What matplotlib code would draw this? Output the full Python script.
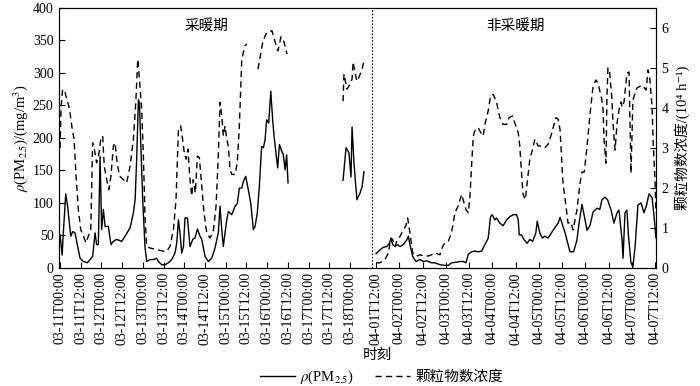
import numpy as np
import matplotlib
matplotlib.use('Agg')
from matplotlib import pyplot as plt
from matplotlib.lines import Line2D

plt.rcParams['font.family'] = ['Liberation Serif', 'Noto Sans CJK SC', 'DejaVu Sans']
plt.rcParams['mathtext.fontset'] = 'stix'
plt.rcParams['font.size'] = 10

# heating period, hours since 03-11T00:00
pm_a_t = [0, 1.2, 1.9, 3.3, 4.4, 6.2, 7.3, 8.7, 10, 11.6, 13.5, 15.8, 17.4, 18.9,
          20.3, 21.2, 22.2, 23.2, 24.1, 25.1, 26.1, 28, 29.5, 30.9, 32.8, 35.7,
          37.7, 40.6, 42.5, 43.5, 44.4, 45.4, 46, 46.7, 47.9, 49.2, 50.2, 52.1,
          54.1, 56, 57, 58.9, 60.8, 62.8, 64.7, 66.6, 67.6, 68.6, 69.5, 70.5,
          71.5, 72.4, 73.8, 75.3, 76.9, 78.2, 79.6, 81.1, 82.1, 84, 85.9, 87.9,
          89.8, 91.7, 92.7, 93.7, 94.6, 95.6, 96.6, 97.5, 99.5, 101.4, 102.7,
          103.9, 105.3, 106.2, 107.6, 109.1, 110.5, 112, 113, 114.3, 115.5,
          116.8, 117.8, 118.8, 119.7, 120.9, 122.1, 123.2, 124, 125.1, 126.1,
          127.1, 128.4, 129.4, 130.4, 131.3, 132.1]
pm_a = [51, 20, 54, 114, 95, 49, 56, 54, 36, 15, 10, 8, 13, 18,
        54, 36, 36, 172, 59, 90, 64, 64, 36, 41, 44, 41,
        49, 62, 85, 105, 167, 259, 254, 197, 105, 33, 10, 13,
        13, 15, 10, 5, 5, 8, 13, 23, 38, 74, 54, 23,
        33, 77, 77, 33, 44, 46, 60, 49, 44, 18, 10, 15,
        31, 54, 95, 59, 33, 54, 74, 87, 82, 95, 99,
        123, 123, 133, 141, 120, 100, 59, 64, 85, 126,
        187, 185, 197, 228, 223, 272, 228, 203, 177, 154,
        190, 180, 174, 151, 174, 131]

pm_b_t = [164, 165.7, 167.4, 168.6, 169.2, 170.3, 172, 173.8, 175, 176.1]
pm_b = [135, 185, 177, 140, 217, 162, 105, 115, 125, 148]

num_a1_t = [0, 0.6, 1.5, 2.9, 3.9, 4.8, 5.8, 6.8, 8.1, 9.3, 10.6, 12, 13.5, 15.1,
            16.4, 17.8, 18.9, 19.9, 21.2, 22.6, 23.6, 24.7, 25.6, 27, 28.3, 29.5,
            30.9, 31.9, 32.8, 34.4, 36.7, 38.6, 40.6, 42.5, 44, 45, 46, 47.3,
            48.3, 49.2, 50.2, 52.1, 56, 59.9, 61.8, 63.7, 65.7, 67.2, 68.6,
            69.9, 71, 72, 73, 74.1, 75.3, 76.3, 77.2, 78.4, 79.6, 80.7, 82.1,
            83.4, 85, 86.9, 88.8, 90.4, 91.7, 92.7, 93.7, 94.6, 95.6, 96.6,
            97.5, 98.5, 99.5, 101.4, 102.7, 103.9, 105.3, 107.2, 108.2]
num_a1 = [3.0, 4.0, 4.47, 4.39, 4.22, 4.09, 3.88, 3.55, 3.22, 2.3, 1.46, 0.96, 0.8, 0.63,
          0.8, 0.96, 3.13, 2.97, 2.63, 2.88, 3.22, 3.3, 2.55, 2.21, 1.96, 2.3,
          3.05, 3.13, 2.72, 2.3, 2.21, 2.13, 2.55, 3.22, 4.22, 5.22, 4.72, 3.97,
          2.8, 1.3, 0.54, 0.5, 0.46, 0.42, 0.42, 0.54, 0.96, 1.71, 3.47,
          3.55, 3.22, 2.88, 2.72, 2.97, 2.21, 1.8, 2.21, 1.88, 2.8, 2.76, 2.05,
          1.38, 0.88, 0.75, 0.92, 1.55, 2.8, 4.14, 3.8, 3.3, 3.55, 3.22,
          3.05, 2.46, 2.34, 2.34, 2.63, 3.55, 5.22, 5.56, 5.6]

num_a2_t = [114.7, 117.6, 119.9, 122.8, 124.6, 126.3, 128, 129.8, 131.5]
num_a2 = [4.97, 5.68, 5.9, 5.93, 5.65, 5.43, 5.78, 5.65, 5.35]

num_b_t = [164, 164.5, 166.3, 167.4, 169.2, 169.8, 170.9, 172, 173.2, 175, 176.1]
num_b = [4.17, 4.85, 4.47, 4.55, 4.72, 5.15, 4.9, 4.67, 4.77, 4.97, 5.18]

# non-heating period, hours since 04-01T12:00
pm_c_t = [0, 2.1, 3.8, 5.5, 6.9, 7.7, 8.6, 9.8, 11, 12.4, 14.1, 15.8, 16.7, 17.5,
          18.9, 20.6, 22.7, 24.4, 26.1, 28.7, 30.4, 33, 35.6, 37.3, 39, 41.6,
          43.3, 45, 46.4, 47.6, 49.3, 51, 52.7, 54.5, 56.2, 57.9, 59.1, 60,
          61.3, 62.2, 63.9, 65.6, 67.4, 69.1, 70.8, 72.5, 73.4, 73.9, 75.1,
          76.3, 78, 79.4, 80.8, 82.5, 83.2, 84.5, 85.9, 87.1, 88.8, 90.5, 92.3,
          94, 95, 97.5, 100.1, 102, 103.7, 104.8, 106.3, 107.5, 108.9, 110.5,
          112, 114.1, 115.5, 116.6, 118.2, 119.5, 121.3, 122.8, 124.4, 125.4,
          127, 127.5, 128.5, 129.5, 130.3, 131.6, 132.6, 133.7, 135.2, 136.8,
          138.3, 139.5, 140.9, 142.5, 143.5, 144.5]
pm_c = [22, 28, 32, 33, 38, 45, 36, 33, 36, 33, 36, 43, 49, 36,
        18, 10, 13, 10, 11, 8, 8, 5, 4, 4, 8, 9,
        10, 10, 8, 21, 25, 26, 25, 26, 36, 46, 79, 82,
        74, 77, 69, 65, 74, 79, 82, 82, 74, 51, 51,
        44, 38, 44, 41, 54, 72, 54, 46, 49, 46, 54, 62,
        69, 78, 55, 25, 25, 43, 69, 98, 80, 58, 66,
        86, 92, 90, 105, 109, 105, 89, 69, 85, 89,
        43, 15, 85, 89, 50, 8, 2, 32, 97, 100,
        85, 95, 114, 108, 80, 46]

num_c_t = [0, 2.1, 4.6, 6.4, 7.6, 8.6, 9.8, 11, 12.4, 14.1, 15.3, 16.3, 17.5, 18.9,
           20.6, 22.7, 25.3, 27.8, 30.4, 33, 34.4, 35.6, 37.3, 39, 40.7, 42.4,
           44.2, 45.4, 46.4, 47.6, 48.5, 49.3, 50.2, 51, 52.7, 54.5, 55.3, 56.2,
           57.9, 59.1, 60.5, 62.2, 63.9, 65.6, 67.4, 68.7, 70.4, 71.6, 73.4,
           74.2, 75.1, 75.9, 77.1, 78.2, 79.4, 80.8, 82, 83.7, 85.4, 87.1, 88.8,
           90.5, 92.8, 94, 95, 96.5, 98.1, 99.1, 100.6, 101.7, 103.7, 105.3,
           106.3, 107.5, 108.9, 110.5, 112, 113.5, 114.6, 116.6, 117.2, 117.7,
           118.7, 119.2, 119.7, 120.5, 121.8, 122.3, 123.4, 124.4, 125.4, 126.5,
           127, 128, 129, 129.5, 130.6, 131.1, 131.6, 132.6, 133.7, 134.7, 137.3,
           139.4, 140.4, 141.2, 142.5, 143, 144, 144.5]
num_c = [0.13, 0.13, 0.21, 0.38, 0.75, 0.71, 0.54, 0.71, 0.79, 0.96, 1.04, 1.25, 0.88, 0.38,
         0.29, 0.33, 0.29, 0.31, 0.38, 0.33, 0.54, 0.63, 0.67, 0.88, 1.38, 1.55,
         1.84, 1.63, 1.46, 1.38, 1.8, 2.55, 3.3, 3.43, 3.51, 3.34, 3.3, 3.59,
         3.93, 4.3, 4.34, 4.14, 3.76, 3.59, 3.59, 3.76, 3.8, 3.63, 3.38,
         3.05, 2.38, 1.84, 1.71, 2.21, 2.72, 2.97, 3.22, 3.05, 3.05, 3.01, 3.09,
         3.34, 3.76, 3.72, 3.45, 2.12, 1.53, 1.12, 1.15, 0.95, 1.45, 2.12,
         2.4, 2.4, 3.03, 3.87, 4.53, 4.7, 4.62, 4.2, 3.95, 3.2,
         2.62, 4.3, 5.0, 4.95, 4.2, 3.62, 2.95, 3.62, 3.95, 4.15,
         4.02, 4.15, 4.62, 4.87, 4.9, 3.62, 2.37, 4.2, 4.37, 4.5, 4.57,
         4.45, 4.95, 4.8, 4.02, 3.2, 2.2, 1.37]

labels_a = ['03-11T00:00', '03-11T12:00', '03-12T00:00', '03-12T12:00',
            '03-13T00:00', '03-13T12:00', '03-14T00:00', '03-14T12:00',
            '03-15T00:00', '03-15T12:00', '03-16T00:00', '03-16T12:00',
            '03-17T00:00', '03-17T12:00', '03-18T00:00']
labels_c = ['04-01T12:00', '04-02T00:00', '04-02T12:00', '04-03T00:00',
            '04-03T12:00', '04-04T00:00', '04-04T12:00', '04-05T00:00',
            '04-05T12:00', '04-06T00:00', '04-06T12:00', '04-07T00:00',
            '04-07T12:00']

# the april block is drawn on a wider scale, after a break
c_start = 183.1
c_scale = 1.1225


def to_c(t):
    return c_start + np.array(t) * c_scale


dash = (0, (4.5, 3))
fig = plt.figure(figsize=(7, 3.86), dpi=100)
ax = fig.add_axes([0.0843, 0.3057, 0.8528, 0.6736])
ax2 = ax.twinx()

ax.plot(pm_a_t, pm_a, color='black', lw=1.0)
ax.plot(pm_b_t, pm_b, color='black', lw=1.0)
ax.plot(to_c(pm_c_t), pm_c, color='black', lw=1.0)
ax2.plot(num_a1_t, num_a1, color='black', lw=1.0, ls=dash)
ax2.plot(num_a2_t, num_a2, color='black', lw=1.0, ls=dash)
ax2.plot(num_b_t, num_b, color='black', lw=1.0, ls=dash)
ax2.plot(to_c(num_c_t), num_c, color='black', lw=1.0, ls=dash)

ax.axvline(180.8, color='black', lw=0.8, ls=(0, (1.5, 1.5)))

ax.set_xlim(-0.6, 345.3)
ax.set_ylim(0, 400)
ax2.set_ylim(0, 6.5)
ax.set_yticks(np.arange(0, 401, 50))
ax2.set_yticks(np.arange(0, 7, 1))

ticks_a = np.arange(0, 169, 12)
ticks_c = to_c(np.arange(0, 145, 12))
ax.set_xticks(np.concatenate([ticks_a, ticks_c]))
ax.set_xticklabels(labels_a + labels_c, rotation=90)

for a in (ax, ax2):
    a.tick_params(direction='in', length=4, width=0.8, labelsize=10)
    for s in a.spines.values():
        s.set_linewidth(0.8)
ax.tick_params(axis='x', pad=3)
ax.tick_params(axis='y', pad=4)
ax2.tick_params(axis='y', pad=4)

ax.set_xlabel('时刻', fontsize=10.5, labelpad=3, x=0.533)
ax.set_ylabel(r'$\rho$(PM$_{2.5}$)/(mg/m$^3$)', fontsize=10.5, labelpad=2)
ax2.set_ylabel('颗粒物数浓度/(10⁴ h⁻¹)', fontsize=10.5, labelpad=4)

ax.text(85, 371, '采暖期', ha='center', va='center', fontsize=10.5)
ax.text(263.6, 371, '非采暖期', ha='center', va='center', fontsize=10.5)

handles = [Line2D([], [], color='black', lw=1.0),
           Line2D([], [], color='black', lw=1.0, ls=dash)]
fig.legend(handles, [r'$\rho$(PM$_{2.5}$)', '颗粒物数浓度'], loc='center',
           bbox_to_anchor=(0.545, 0.022), ncol=2, frameon=False, fontsize=10.5,
           handlelength=2.4, columnspacing=1.4, handletextpad=0.4,
           borderpad=0.1)

fig.savefig('out.png', dpi=100)
